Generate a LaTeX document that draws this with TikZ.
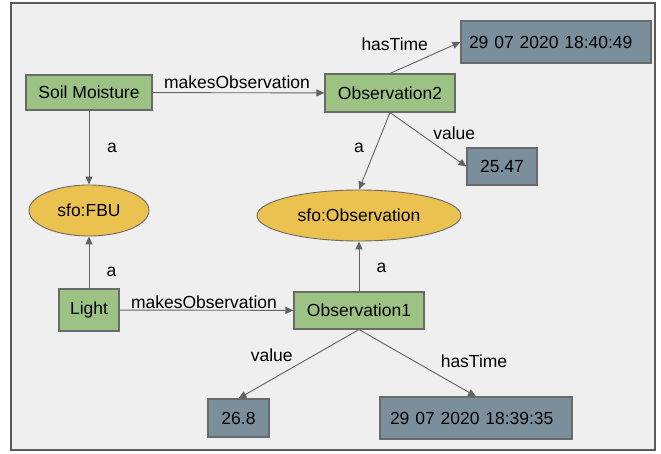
\documentclass[tikz,border=0pt]{standalone}
\usepackage{fontspec}
\setmainfont{Liberation Sans}
\usetikzlibrary{arrows.meta,shapes.geometric}

\definecolor{framefill}{HTML}{EFEFEF}
\definecolor{frameline}{HTML}{5A5A5A}
\definecolor{entityfill}{HTML}{9CC383}
\definecolor{classfill}{HTML}{EBC250}
\definecolor{literalfill}{HTML}{7B8E9B}
\definecolor{shapeline}{HTML}{6A6A6A}
\definecolor{edgeline}{HTML}{636363}

\begin{document}
\begin{tikzpicture}[x=1pt,y=-1pt,
  every node/.style={font=\fontsize{17.5}{21}\selectfont, inner sep=0pt},
  entity/.style={draw=shapeline, line width=1.1pt, fill=entityfill, rectangle},
  klass/.style={draw=shapeline, line width=0.9pt, fill=classfill, ellipse},
  literal/.style={draw=shapeline, line width=1.1pt, fill=literalfill, rectangle},
  rel/.style={draw=edgeline, line width=0.9pt, -{Triangle[width=7pt,length=8pt]}},
  lbl/.style={midway, anchor=center}
]
  % canvas and frame
  \useasboundingbox (0,0) rectangle (661,454);
  \fill[white] (0,0) rectangle (661,454);
  \draw[frameline, fill=framefill, line width=1.2pt] (11,3) rectangle (655,450);

  % resources
  \node[entity, minimum width=126, minimum height=35] (soil) at (89,92.5) {Soil Moisture};
  \node[entity, minimum width=130, minimum height=38] (obs2) at (390,93) {Observation2};
  \node[entity, minimum width=60, minimum height=42] (light) at (89,310) {Light};
  \node[entity, minimum width=130, minimum height=37] (obs1) at (359,310.5) {Observation1};

  % classes
  \node[klass, minimum width=120, minimum height=51] (fbu) at (89,210.5) {sfo:FBU};
  \node[klass, minimum width=204, minimum height=51] (sobs) at (359,215.5) {sfo:Observation};

  % literals
  \node[literal, minimum width=190, minimum height=42, text width=174, align=left, inner xsep=8] (t2) at (556,42) {29 07 2020 18:40:49};
  \node[literal, minimum width=70, minimum height=37] (v2) at (502,166.5) {25.47};
  \node[literal, minimum width=61, minimum height=38] (v1) at (238.5,418) {26.8};
  \node[literal, minimum width=190, minimum height=42, text width=172, align=left, inner xsep=10] (t1) at (476,418) {29 07 2020 18:39:35};

  % relations
  \draw[rel] (soil) -- (obs2) node[lbl, xshift=-1.5, yshift=10.4] {makesObservation};
  \draw[rel] (soil) -- (fbu.north) node[lbl, xshift=23, yshift=0] {a};
  \draw[rel] (obs2.north) -- (t2.west) node[lbl, xshift=-30.5, yshift=13.3] {hasTime};
  \draw[rel] (obs2.south) -- (v2.west) node[lbl, xshift=26, yshift=6.4] {value};
  \draw[rel] (obs2.south) -- (sobs.north) node[lbl, xshift=-15.5, yshift=3.5] {a};
  \draw[rel] (light) -- (fbu.south) node[lbl, xshift=22.5, yshift=-9] {a};
  \draw[rel] (light) -- (obs1) node[lbl, xshift=-2.5, yshift=8.4] {makesObservation};
  \draw[rel] (obs1) -- (sobs.south) node[lbl, xshift=22.5, yshift=-1.5] {a};
  \draw[rel] (obs1.south) -- (v1.north) node[lbl, xshift=-27, yshift=8.3] {value};
  \draw[rel] (obs1.south) -- (t1.north) node[lbl, xshift=56.5, yshift=1.3] {hasTime};
\end{tikzpicture}
\end{document}
